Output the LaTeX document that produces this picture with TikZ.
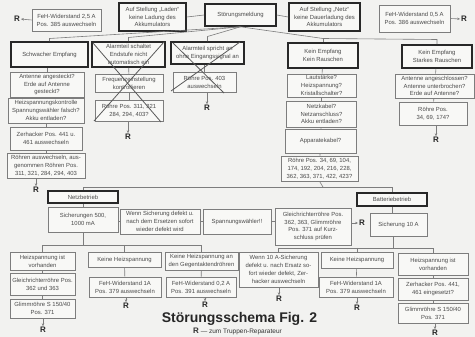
\documentclass[tikz,border=0pt]{standalone}
\usepackage{fontspec}
\setmainfont{Liberation Sans}
\usetikzlibrary{arrows.meta}
\definecolor{bg}{RGB}{242,242,240}
\definecolor{boxfill}{RGB}{248,248,246}
\definecolor{thinc}{RGB}{125,125,125}
\definecolor{thickc}{RGB}{40,40,40}
\definecolor{txt}{RGB}{75,75,75}
\tikzset{
 box/.style={draw=thinc, line width=0.6pt, fill=boxfill, text=txt, align=center, inner sep=0pt, font=\fontsize{5.9}{7.8}\selectfont},
 tbox/.style={box, draw=thickc, line width=1.6pt},
 sz/.style n args={2}{minimum width=#1pt, minimum height=#2pt},
 conn/.style={draw=thinc, line width=0.6pt},
 arr/.style={conn, -{Stealth[length=3pt,width=2.4pt]}, shorten >=0.8pt},
 rr/.style={font=\fontsize{8}{8}\selectfont\bfseries, text=black!85, inner sep=0pt},
 crossline/.style={draw=black!65, line width=0.8pt},
}
\begin{document}
\begin{tikzpicture}[x=1pt,y=-1pt]
\fill[bg] (0,0) rectangle (475,337);
\useasboundingbox (0,0) rectangle (475,337);
% top row
\node[box, sz={69}{22}] (fe25) at (66.5,20) {FeH-Widerstand 2,5 A\\Pos. 385 auswechseln};
\node[tbox, sz={67}{28}] (laden) at (152.5,17) {Auf Stellung „Laden“\\keine Ladung des\\Akkumulators};
\node[tbox, sz={71}{22}] (stoer) at (240.5,15) {Störungsmeldung};
\node[tbox, sz={71}{28}] (netz) at (324.5,17) {Auf Stellung „Netz“\\keine Dauerladung des\\Akkumulators};
\node[box, sz={71}{27}] (fe05) at (414.5,18.5) {FeH-Widerstand 0,5 A\\Pos. 386 auswechseln};
\node[rr] (Rl) at (17,19) {R};
\node[rr] (Rr) at (464,19) {R};
\draw[arr] (fe25.west) -- (Rl.east);
\draw[arr] (fe05.east) -- (Rr.west);
\draw[conn] (laden.east) -- (stoer.west);
\draw[conn] (stoer.east) -- (netz.west);
% second row
\node[tbox, sz={77}{25}] (c1a) at (49.5,54.5) {Schwacher Empfang};
\node[tbox, sz={73}{25}] (c2a) at (128.5,54.5) {Alarmteil schaltet\\Endstufe nicht\\automatisch ein};
\node[tbox, sz={73}{22}] (c3a) at (207.5,53) {Alarmteil spricht an\\ohne Eingangssignal an};
\node[tbox, sz={70}{25}] (c4a) at (323,55.5) {Kein Empfang\\Kein Rauschen};
\node[tbox, sz={70}{23}] (c5a) at (437,56.5) {Kein Empfang\\Starkes Rauschen};
\coordinate (t1) at (49.5,38.5);
\coordinate (t2) at (128.5,37.5);
\coordinate (t3) at (207.5,36.5);
\coordinate (t4) at (323,38.5);
\coordinate (t5) at (437,39.5);
\draw[conn] (stoer.south) -- (t1) -- (c1a.north);
\draw[conn] (stoer.south) -- (t2) -- (c2a.north);
\draw[conn] (stoer.south) -- (t3) -- (c3a.north);
\draw[conn] (stoer.south) -- (t4) -- (t5) -- (c5a.north);
\draw[conn] (t4) -- (c4a.north);
% column 1
\node[box, sz={74}{25}] (c1b) at (47,84.5) {Antenne angesteckt?\\Erde auf Antenne\\gesteckt?};
\node[box, sz={76}{25}] (c1c) at (46,110.5) {Heizspannungskontrolle\\Spannungswähler falsch?\\Akku entladen?};
\node[box, sz={72}{23}] (c1d) at (46,138.5) {Zerhacker Pos. 441 u.\\461 auswechseln};
\node[box, sz={78}{25}] (c1e) at (46,165.5) {Röhren auswechseln, aus-\\genommen Röhren Pos.\\311, 321, 284, 294, 403};
\node[rr] (R1) at (36,190) {R};
\draw[conn] (c1a.south -| c1b.north) -- (c1b.north);
\draw[conn] (c1b) -- (c1c);
\draw[conn] (c1c) -- (c1d);
\draw[conn] (c1d) -- (c1e);
\draw[arr] (c1e.south -| R1) -- (R1.north);
% column 2
\node[box, sz={68}{18}] (c2b) at (129,83.5) {Frequenzeinstellung\\kontrollieren};
\node[box, sz={68}{21}] (c2c) at (129,110.5) {Röhre Pos. 311, 321\\284, 294, 403?};
\node[rr] (R2) at (128,137) {R};
\draw[conn] (c2a) -- (c2b);
\draw[conn] (c2b) -- (c2c);
\draw[arr] (c2c.south -| R2) -- (R2.north);
\draw[crossline] (93,43) -- (161,122);
\draw[crossline] (164,42) -- (94,121);
% column 3
\node[box, sz={63}{20}] (c3b) at (204.5,82) {Röhre Pos. 403\\auswechseln};
\node[rr] (R3) at (207,108) {R};
\draw[conn] (c3a.south -| c3b.north) -- (c3b.north);
\draw[arr] (c3b.south -| R3) -- (R3.north);
\draw[crossline] (173,43) -- (224,93);
\draw[crossline] (240,42) -- (171,91);
% column 4
\node[box, sz={69}{23}] (c4b) at (321.5,85.5) {Lautstärke?\\Heizspannung?\\Kristallschalter?};
\node[box, sz={70}{26}] (c4c) at (321.5,114) {Netzkabel?\\Netzanschluss?\\Akku entladen?};
\node[box, sz={71}{24}] (c4d) at (320.5,141) {Apparatekabel?};
\node[box, sz={77}{25}] (c4e) at (319.5,168.5) {Röhre Pos. 34, 69, 104,\\174, 192, 204, 216, 228,\\362, 363, 371, 422, 423?};
\draw[conn] (c4a) -- (c4b);
\draw[conn] (c4b) -- (c4c);
\draw[conn] (c4c) -- (c4d);
\draw[conn] (c4d) -- (c4e);
% column 5
\node[box, sz={79}{24}] (c5b) at (434.5,86) {Antenne angeschlossen?\\Antenne unterbrochen?\\Erde auf Antenne?};
\node[box, sz={68}{23}] (c5c) at (433,113.5) {Röhre Pos.\\34, 69, 174?};
\node[rr] (R5) at (436,140) {R};
\draw[conn] (c5a) -- (c5b);
\draw[conn] (c5b) -- (c5c);
\draw[arr] (c5c.south -| R5) -- (R5.north);
% Netz / Batterie
\node[tbox, sz={70}{12}] (netzb) at (83,197) {Netzbetrieb};
\node[tbox, sz={70}{13}] (battb) at (392,199.5) {Batteriebetrieb};
\coordinate (bus) at (323,187);
\draw[conn] (c4e.south) -- (bus);
\draw[conn] (netzb.north) -- (netzb.north |- bus) -- (battb.north |- bus) -- (battb.north);
\node[box, sz={70}{25}] (s500) at (83,219.5) {Sicherungen 500,\\1000 mA};
\node[box, sz={80}{25}] (wenn1) at (160,221.5) {Wenn Sicherung defekt u.\\nach dem Ersetzen sofort\\wieder defekt wird};
\node[box, sz={68}{25}] (spw) at (237,221.5) {Spannungswähler!!};
\node[box, sz={76}{37}] (gleich) at (313,226.5) {Gleichrichterröhre Pos.\\362, 363, Glimmröhre\\Pos. 371 auf Kurz-\\schluss prüfen};
\node[rr] (Rg) at (362,223) {R};
\node[box, sz={57}{23}] (s10) at (398.5,224.5) {Sicherung 10 A};
\draw[conn] (netzb) -- (s500);
\draw[conn] (s500.east |- wenn1) -- (wenn1.west);
\draw[conn] (wenn1) -- (spw);
\draw[conn] (spw.east) -- (gleich.west |- spw);
\draw[arr] (gleich.east |- Rg) -- (Rg.west);
\draw[conn] (battb.south) -- (s10.north -| battb.south);
% bottom Netz
\node[box, sz={65}{18}] (n1) at (42.5,261) {Heizspannung ist\\vorhanden};
\node[box, sz={73}{15}] (n2) at (124.5,259.5) {Keine Heizspannung};
\node[box, sz={73}{18}] (n3) at (201.5,261) {Keine Heizspannung an\\den Gegentaktendröhren};
\coordinate (nbus) at (83,245);
\draw[conn] (s500.south) -- (nbus);
\draw[conn] (n1.north) -- (n1.north |- nbus) -- (n3.north |- nbus) -- (n3.north);
\draw[conn] (n2.north |- nbus) -- (n2.north);
\node[box, sz={65}{22}] (n1b) at (42.5,284) {Gleichrichterröhre Pos.\\362 und 363};
\node[box, sz={65}{19}] (n1c) at (42.5,308.5) {Glimmröhre S 150/40\\Pos. 371};
\node[rr] (Rn1) at (43,330) {R};
\draw[conn] (n1) -- (n1b);
\draw[conn] (n1b) -- (n1c);
\draw[arr] (n1c.south -| Rn1) -- (Rn1.north);
\node[box, sz={72}{20}] (n2b) at (125,287) {FeH-Widerstand 1A\\Pos. 379 auswechseln};
\node[rr] (Rn2) at (126,306) {R};
\draw[conn] (n2) -- (n2b);
\draw[arr] (n2b.south -| Rn2) -- (Rn2.north);
\node[box, sz={70}{20}] (n3b) at (201,287) {FeH-Widerstand 0,2 A\\Pos. 391 auswechseln};
\node[rr] (Rn3) at (205,305) {R};
\draw[conn] (n3) -- (n3b);
\draw[arr] (n3b.south -| Rn3) -- (Rn3.north);
% bottom Batterie
\node[box, sz={79}{35}] (b1) at (278.5,269.5) {Wenn 10 A-Sicherung\\defekt u. nach Ersatz so-\\fort wieder defekt, Zer-\\hacker auswechseln};
\node[box, sz={72}{16}] (b2) at (357,260) {Keine Heizspannung};
\node[box, sz={70}{22}] (b3) at (433,264) {Heizspannung ist\\vorhanden};
\coordinate (bbus) at (393,248);
\draw[conn] (s10.south -| bbus) -- (bbus);
\draw[conn] (b1.north) -- (b1.north |- bbus) -- (b3.north |- bbus) -- (b3.north);
\draw[conn] (b2.north |- bbus) -- (b2.north);
\node[rr] (Rb1) at (279,299) {R};
\draw[arr] (b1.south -| Rb1) -- (Rb1.north);
\node[box, sz={74}{20}] (b2b) at (356,287) {FeH-Widerstand 1A\\Pos. 379 auswechseln};
\node[rr] (Rb2) at (357,308) {R};
\draw[conn] (b2) -- (b2b);
\draw[arr] (b2b.south -| Rb2) -- (Rb2.north);
\node[box, sz={70}{22}] (b3b) at (433,289) {Zerhacker Pos. 441,\\461 eingesetzt?};
\node[box, sz={70}{20}] (b3c) at (433,313) {Glimmröhre S 150/40\\Pos. 371};
\node[rr] (Rb3) at (435,333) {R};
\draw[conn] (b3) -- (b3b);
\draw[conn] (b3b) -- (b3c);
\draw[arr] (b3c.south -| Rb3) -- (Rb3.north);
% title
\node[font=\fontsize{14}{15}\selectfont\bfseries, text=black!85, anchor=base, inner sep=0pt] (title) at (239.5,323) {Störungsschema Fig. 2};
\node[font=\fontsize{6.5}{7}\selectfont, text=black!80, anchor=base, inner sep=0pt] (sub) at (237.5,334) {{\fontsize{8}{8}\selectfont\bfseries R} — zum Truppen-Reparateur};
\end{tikzpicture}
\end{document}
